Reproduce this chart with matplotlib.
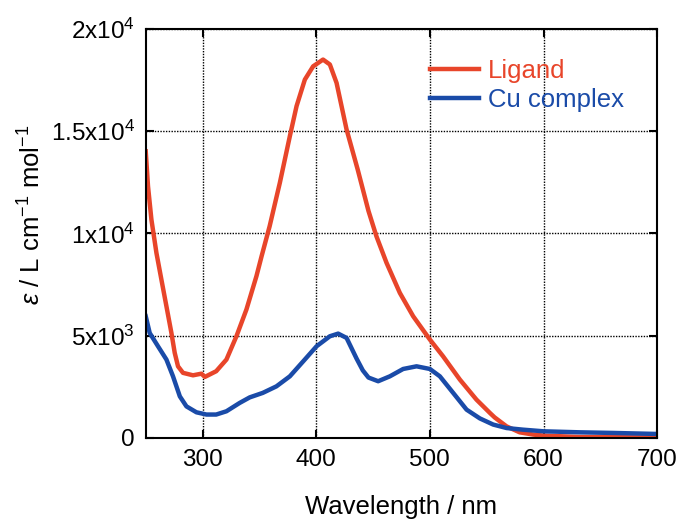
import matplotlib
matplotlib.use("Agg")
import matplotlib.pyplot as plt

plt.rcParams['font.family'] = ['Liberation Sans', 'DejaVu Sans']
plt.rcParams['mathtext.fontset'] = 'custom'
plt.rcParams['mathtext.rm'] = 'Liberation Sans'
plt.rcParams['mathtext.it'] = 'Liberation Sans:italic'
plt.rcParams['mathtext.default'] = 'regular'

# Ligand spectrum
lig_wl = [250, 252, 255, 259.4, 263.8, 268.2, 272.6, 275.5, 278.4, 282.8, 291.6, 299, 302, 312, 321,
          329.8, 338.6, 347.4, 352, 359, 368, 376.8, 382.7, 390, 397.3, 406, 412, 417.9, 426.7, 436.5,
          446, 453, 461.9, 473.6, 485.3, 500, 511.6, 526.4, 541, 552.8, 557, 567.5, 579, 591, 600,
          632, 700]
lig_eps = [14020, 12310, 10680, 9050, 7740, 6440, 5130, 4160, 3500, 3180, 3060, 3140, 2980, 3260, 3830,
           4970, 6280, 7910, 8900, 10350, 12480, 14760, 16230, 17530, 18180, 18510, 18270, 17370, 15090,
           13130, 11100, 9860, 8560, 7090, 5950, 4810, 3990, 2850, 1870, 1220, 1000, 560, 270, 160, 110,
           40, 20]

# Cu complex spectrum
cu_wl = [250, 253.5, 260.8, 268.2, 274, 280, 285.8, 294.6, 303.4, 312, 321, 332.7, 341.5, 353, 365,
         376.8, 388.5, 400.3, 412, 419.3, 426.7, 435.5, 441, 446, 454.5, 464.8, 476.5, 488.3, 500, 508.8,
         520.5, 532.3, 544, 555.7, 567.5, 582, 600, 632, 661, 700]
cu_eps = [5950, 5130, 4480, 3830, 3010, 2030, 1540, 1250, 1140, 1140, 1300, 1710, 1980, 2200, 2520,
          3010, 3740, 4480, 4970, 5100, 4890, 3880, 3300, 2950, 2770, 3010, 3370, 3500, 3370, 3010,
          2200, 1380, 950, 650, 480, 400, 320, 270, 240, 190]

x_ticks = [300, 400, 500, 600, 700]
y_ticks = [0, 5000, 10000, 15000, 20000]
y_tick_labels = ["0", r"5x10$^3$", r"1x10$^4$", r"1.5x10$^4$", r"2x10$^4$"]

red = "#E8452A"
blue = "#1A4BA8"

fig = plt.figure(figsize=(6.81, 5.2), dpi=100)
ax = fig.add_axes([0.214, 0.158, 0.751, 0.786])

ax.plot(lig_wl, lig_eps, color=red, lw=3.2, label="Ligand", solid_joinstyle='round')
ax.plot(cu_wl, cu_eps, color=blue, lw=3.2, label="Cu complex", solid_joinstyle='round')

ax.set_xlim(250, 700)
ax.set_ylim(0, 20000)
ax.set_xticks(x_ticks)
ax.set_yticks(y_ticks)
ax.set_yticklabels(y_tick_labels)
ax.grid(True, color='black', linestyle=(0, (1, 1)), linewidth=1.0)
ax.tick_params(direction='in', length=6, width=1.5, labelsize=17.5, top=True, right=True, pad=8)
for s in ax.spines.values():
    s.set_linewidth(1.5)
    s.set_color('black')

ax.set_xlabel("Wavelength / nm", fontsize=18.5, labelpad=17)
ax.set_ylabel(r"$\mathit{\varepsilon}$ / L cm$^{-1}$ mol$^{-1}$", fontsize=18.5)
ax.yaxis.set_label_coords(-0.195, 0.545)

leg = ax.legend(loc='upper right', frameon=False, fontsize=18.5, labelcolor='linecolor',
                handlelength=1.9, handletextpad=0.35, borderaxespad=0.4, labelspacing=0.2,
                bbox_to_anchor=(0.975, 0.978))

fig.savefig("out.png", dpi=100)
